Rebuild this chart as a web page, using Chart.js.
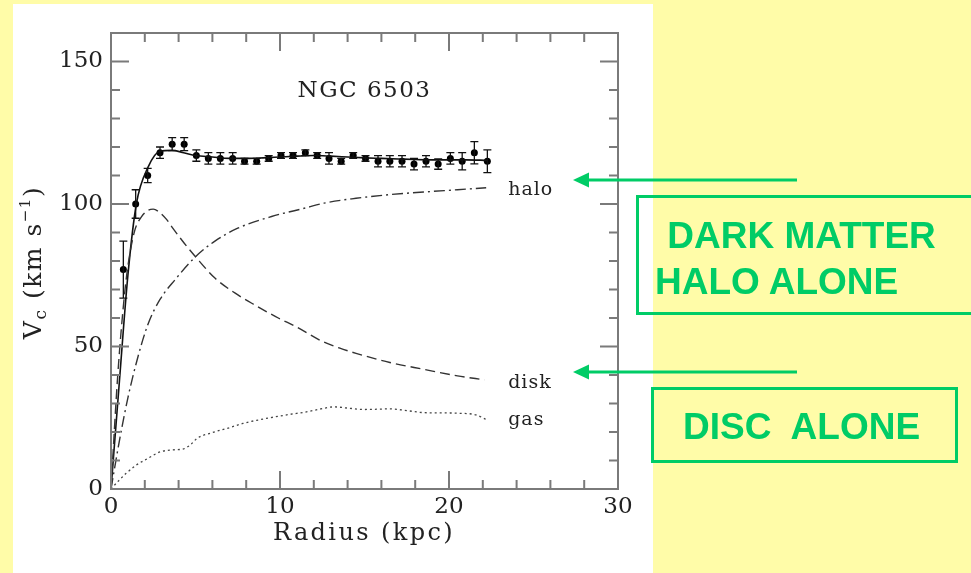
<!DOCTYPE html>
<html>
<head>
<meta charset="utf-8">
<script src="https://cdn.jsdelivr.net/npm/chart.js@4/dist/chart.umd.min.js"></script>
<style>
  html, body { margin: 0; padding: 0; width: 971px; height: 573px; overflow: hidden; background: #FFFCA8; }
  #panel { position: absolute; left: 13px; top: 4px; width: 640px; height: 569px; background: #ffffff; }
  #c { position: absolute; left: 0; top: 0; }
  #notes { position: absolute; left: 0; top: 0; }
  .box { position: absolute; box-sizing: border-box; border: 3px solid #00CC66; }
  .note { position: absolute; color: #00CC66; font: bold 37px "Liberation Sans", Arial, sans-serif;
          line-height: 37px; white-space: pre; }
</style>
</head>
<body>
<div id="panel"></div>
<canvas id="c" width="971" height="573"></canvas>

<svg id="notes" width="971" height="573">
  <line x1="797" y1="180" x2="586" y2="180" stroke="#00CC66" stroke-width="3"/>
  <polygon points="573,180 589,172.5 589,187.5" fill="#00CC66"/>
  <line x1="797" y1="372" x2="586" y2="372" stroke="#00CC66" stroke-width="3"/>
  <polygon points="573,372 589,364.5 589,379.5" fill="#00CC66"/>
</svg>
<div class="box" style="left:636px; top:195px; width:345px; height:120px;"></div>
<div class="note" style="left:657px; top:217px;"> DARK MATTER</div>
<div class="note" style="left:655px; top:263px;">HALO ALONE</div>
<div class="box" style="left:651px; top:387px; width:307px; height:76px;"></div>
<div class="note" style="left:683px; top:408px;">DISC  ALONE</div>

<script>
// NGC 6503 rotation curve: observed velocities with errors and the model decomposition.
const obsRadius   = [0.73, 1.46, 2.17, 2.90, 3.62, 4.33, 5.05, 5.76, 6.47, 7.20, 7.90, 8.62, 9.33, 10.06, 10.77, 11.50,
                     12.20, 12.90, 13.62, 14.33, 15.06, 15.80, 16.50, 17.22, 17.93, 18.64, 19.36, 20.08, 20.78, 21.50, 22.27];
const obsVelocity = [77, 100, 110, 118, 121, 121, 117, 116, 116, 116, 115, 115, 116, 117, 117, 118,
                     117, 116, 115, 117, 116, 115, 115, 115, 114, 115, 114, 116, 115, 118, 115];
const obsError    = [10, 5, 2.5, 2, 2.3, 2.3, 2, 2, 2, 2, 1, 1, 1, 1, 1, 1,
                     1, 2, 1, 1, 1, 2, 2, 2, 2, 2, 1.8, 2, 3, 3.9, 4];

const fitRadius   = [0, 0.5, 1.0, 1.5, 2.2, 2.9, 3.6, 4.3, 5.0, 6.0, 7.0, 8.0, 9.0, 10.0, 11.0, 12.0, 13.0,
                     14.0, 15.0, 16.0, 17.0, 18.0, 19.0, 20.0, 21.0, 22.3];
const fitVelocity = [0, 38, 75, 100, 113, 118.5, 118.8, 118, 117, 116.5, 116, 116, 116.2, 116.5, 116.8, 117, 116.8,
                     116.5, 116.2, 116, 115.8, 115.6, 115.5, 115.5, 115.5, 115.3];

const haloRadius   = [0, 0.5, 1.0, 1.6, 2.2, 2.9, 3.8, 5.0, 6.15, 7.5, 9.5, 11.5, 12.6, 14.5, 16.5, 18.5, 20.5, 22.2];
const haloVelocity = [0, 17, 32, 46.5, 58, 66.5, 73.5, 81.5, 87, 91.5, 95.6, 98.6, 100.3, 102, 103.3, 104.2, 105, 105.7];

const diskRadius   = [0, 0.4, 0.83, 1.1, 1.42, 1.8, 2.2, 2.5, 2.8, 3.3, 3.6, 4.3, 5.0, 6.15, 7.35, 8.5, 9.9, 11.0,
                      12.5, 13.5, 14.5, 16.5, 18.5, 20.5, 22.1];
const diskVelocity = [0, 40, 70, 82, 91, 95.5, 97.8, 98.2, 97.4, 94.5, 92, 86.5, 81.5, 74, 68.7, 64.6, 60, 56.8,
                      51.8, 49.5, 47.6, 44.4, 42, 39.7, 38.3];

const gasRadius   = [0, 0.5, 0.9, 1.5, 2.2, 2.9, 3.6, 4.3, 4.7, 5.1, 6.0, 7.0, 7.8, 8.7, 9.6, 10.6, 11.5, 12.5,
                     13.2, 14.0, 15.0, 16.5, 17.5, 18.5, 19.5, 20.5, 21.6, 22.2];
const gasVelocity = [0, 3.2, 5.5, 8.4, 10.8, 13, 13.7, 14.1, 15.5, 17.8, 19.8, 21.5, 23, 24.2, 25.2, 26.2, 27, 28.2,
                     28.8, 28.4, 27.9, 28.1, 27.5, 26.8, 26.7, 26.6, 26, 24.4];

const xMajorTicks = [0, 10, 20, 30];
const yMajorTicks = [0, 50, 100, 150];
const xMinorStep = 2;
const yMinorStep = 10;

// Curve labels placed in data coordinates (radius, velocity at text baseline)
const curveLabels = [
  { text: 'halo', x: 23.5, y: 103.3 },
  { text: 'disk', x: 23.5, y: 35.6 },
  { text: 'gas',  x: 23.5, y: 22.5 }
];
const galaxyName = { text: 'NGC 6503', x: 15.0, y: 137.7 };

const pts = (xs, ys) => xs.map((x, i) => ({ x, y: ys[i] }));

const INK = '#222222';
const AXIS = '#7a7a7a';
const SERIF = '"DejaVu Serif", "Liberation Serif", serif';

// Box frame with inward major/minor ticks on all four sides
const framePlugin = {
  id: 'frame',
  afterDatasetsDraw(chart) {
    const { ctx, chartArea: a, scales: { x, y } } = chart;
    ctx.save();
    ctx.strokeStyle = AXIS;
    ctx.lineWidth = 2;
    ctx.strokeRect(a.left, a.top, a.right - a.left, a.bottom - a.top);
    ctx.beginPath();
    for (let v = x.min; v <= x.max + 1e-9; v += xMinorStep) {
      const px = x.getPixelForValue(v);
      const len = xMajorTicks.includes(v) ? 18 : 9;
      ctx.moveTo(px, a.bottom); ctx.lineTo(px, a.bottom - len);
      ctx.moveTo(px, a.top);    ctx.lineTo(px, a.top + len);
    }
    for (let v = y.min; v <= y.max + 1e-9; v += yMinorStep) {
      const py = y.getPixelForValue(v);
      const len = yMajorTicks.includes(v) ? 18 : 9;
      ctx.moveTo(a.left, py);  ctx.lineTo(a.left + len, py);
      ctx.moveTo(a.right, py); ctx.lineTo(a.right - len, py);
    }
    ctx.stroke();
    ctx.restore();
  }
};

// Vertical error bars with caps for the observed points
const errorBarPlugin = {
  id: 'errorBars',
  afterDatasetsDraw(chart) {
    const { ctx, scales: { x, y } } = chart;
    ctx.save();
    ctx.strokeStyle = '#111';
    ctx.lineWidth = 1.3;
    ctx.beginPath();
    obsRadius.forEach((r, i) => {
      const px = x.getPixelForValue(r);
      const top = y.getPixelForValue(obsVelocity[i] + obsError[i]);
      const bot = y.getPixelForValue(obsVelocity[i] - obsError[i]);
      ctx.moveTo(px, top); ctx.lineTo(px, bot);
      ctx.moveTo(px - 4, top); ctx.lineTo(px + 4, top);
      ctx.moveTo(px - 4, bot); ctx.lineTo(px + 4, bot);
    });
    ctx.stroke();
    ctx.restore();
  }
};

// Galaxy name, curve labels and axis titles
const textPlugin = {
  id: 'texts',
  afterDraw(chart) {
    const { ctx, chartArea: a, scales: { x, y } } = chart;
    ctx.save();
    ctx.fillStyle = INK;
    ctx.textBaseline = 'alphabetic';

    ctx.font = '23px ' + SERIF;
    ctx.letterSpacing = '1.5px';
    ctx.textAlign = 'center';
    ctx.fillText(galaxyName.text, x.getPixelForValue(galaxyName.x), y.getPixelForValue(galaxyName.y));

    ctx.font = '19px ' + SERIF;
    ctx.letterSpacing = '1px';
    ctx.textAlign = 'left';
    curveLabels.forEach(l => ctx.fillText(l.text, x.getPixelForValue(l.x), y.getPixelForValue(l.y)));

    // x-axis title
    ctx.font = '24px ' + SERIF;
    ctx.letterSpacing = '2.4px';
    ctx.textAlign = 'center';
    ctx.fillText('Radius (kpc)', (a.left + a.right) / 2 - 0.5, 540);

    // y-axis title: V_c (km s^-1), rotated
    const parts = [
      { t: 'V', size: 25, dy: 0 },
      { t: 'c', size: 17, dy: 5 },
      { t: ' (km s', size: 25, dy: 0 },
      { t: '\u22121', size: 15, dy: -11 },
      { t: ')', size: 25, dy: 0 }
    ];
    ctx.letterSpacing = '1.5px';
    let total = 0;
    parts.forEach(p => { ctx.font = p.size + 'px ' + SERIF; p.w = ctx.measureText(p.t).width; total += p.w; });
    ctx.translate(41, 262.5);
    ctx.rotate(-Math.PI / 2);
    ctx.textAlign = 'left';
    let cx = -total / 2;
    parts.forEach(p => { ctx.font = p.size + 'px ' + SERIF; ctx.fillText(p.t, cx, p.dy); cx += p.w; });
    ctx.restore();
  }
};

new Chart(document.getElementById('c'), {
  type: 'scatter',
  data: {
    datasets: [
      { label: 'halo', data: pts(haloRadius, haloVelocity), showLine: true, borderColor: '#333', borderWidth: 1.4,
        borderDash: [11, 4, 2, 4], pointRadius: 0, cubicInterpolationMode: 'monotone' },
      { label: 'disk', data: pts(diskRadius, diskVelocity), showLine: true, borderColor: '#333', borderWidth: 1.4,
        borderDash: [10, 5], pointRadius: 0, cubicInterpolationMode: 'monotone' },
      { label: 'gas', data: pts(gasRadius, gasVelocity), showLine: true, borderColor: '#444', borderWidth: 1.3,
        borderDash: [2, 3], pointRadius: 0, cubicInterpolationMode: 'monotone' },
      { label: 'total', data: pts(fitRadius, fitVelocity), showLine: true, borderColor: '#111', borderWidth: 1.6,
        pointRadius: 0, cubicInterpolationMode: 'monotone' },
      { label: 'observed', data: pts(obsRadius, obsVelocity), showLine: false, pointRadius: 3.5,
        pointBackgroundColor: '#000', pointBorderColor: '#000', pointBorderWidth: 0 }
    ]
  },
  options: {
    responsive: false,
    animation: false,
    devicePixelRatio: 1,
    layout: { padding: { top: 33, right: 353, left: 0, bottom: 0 } },
    plugins: { legend: { display: false }, tooltip: { enabled: false } },
    scales: {
      x: {
        type: 'linear', min: 0, max: 30,
        afterBuildTicks: s => { s.ticks = xMajorTicks.map(v => ({ value: v })); },
        afterFit: s => { s.height = 84; },
        ticks: { font: { family: SERIF, size: 23 }, color: INK, padding: 4, maxRotation: 0, autoSkip: false },
        grid: { display: false, drawTicks: false },
        border: { display: false }
      },
      y: {
        type: 'linear', min: 0, max: 160,
        afterBuildTicks: s => { s.ticks = yMajorTicks.map(v => ({ value: v })); },
        afterFit: s => { s.width = 111; },
        ticks: { font: { family: SERIF, size: 23 }, color: INK, padding: 8, autoSkip: false },
        grid: { display: false, drawTicks: false },
        border: { display: false }
      }
    }
  },
  plugins: [framePlugin, errorBarPlugin, textPlugin]
});
</script>
</body>
</html>
